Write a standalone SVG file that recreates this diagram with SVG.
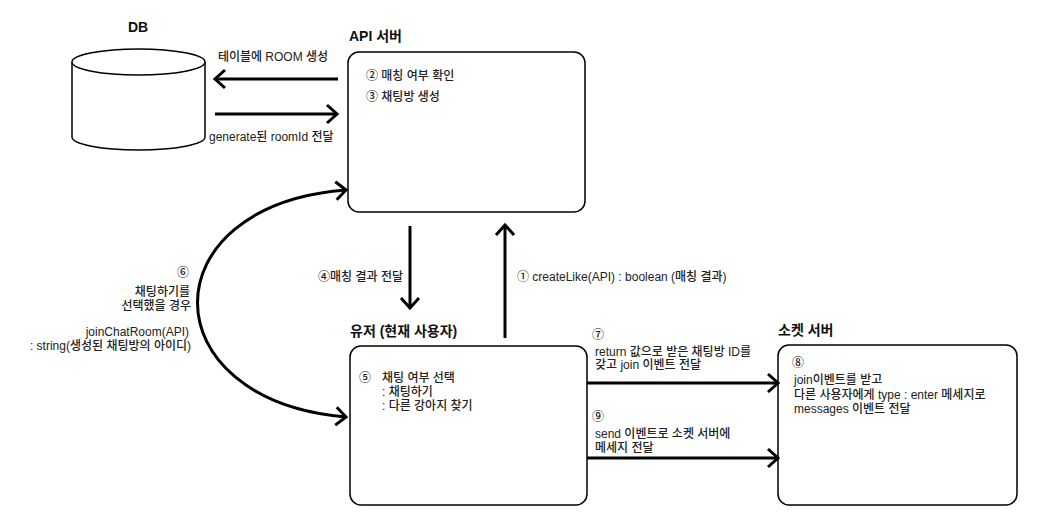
<svg xmlns="http://www.w3.org/2000/svg" width="1043" height="530" viewBox="0 0 1043 530">
<style>
text{font-family:"Liberation Sans","Noto Sans CJK KR",sans-serif;fill:#222;font-size:12px;font-weight:500}
.h{font-size:14px;font-weight:700;fill:#111}
.box{fill:#fff;stroke:#000;stroke-width:1.5}
.ln{fill:none;stroke:#000;stroke-width:3}
.e{text-anchor:end}
</style>
<defs>
<marker id="ah" viewBox="0 0 14 22" refX="12" refY="11" markerWidth="14" markerHeight="22" markerUnits="userSpaceOnUse" orient="auto-start-reverse">
<path d="M2,2 L12,11 L2,20" fill="none" stroke="#000" stroke-width="3"/>
</marker>
</defs>
<rect width="1043" height="530" fill="#fff"/>
<g id="db">
<path class="box" d="M72,62 L72,137 A66.5,13 0 0 0 205,137 L205,62"/>
<ellipse class="box" cx="138.5" cy="62" rx="66.5" ry="13"/>
<text class="h" x="138" y="32" text-anchor="middle">DB</text>
</g>
<g id="api">
<text class="h" x="349" y="41">API 서버</text>
<rect class="box" x="348" y="52" width="237" height="160" rx="11"/>
<text x="366" y="80">② 매칭 여부 확인<tspan x="366" y="101">③ 채팅방 생성</tspan></text>
</g>
<g id="user">
<text class="h" x="350" y="336">유저 (현재 사용자)</text>
<rect class="box" x="350" y="346" width="237" height="159" rx="11"/>
<text x="359" y="382">⑤<tspan x="382" y="382">채팅 여부 선택</tspan><tspan x="382" y="396">: 채팅하기</tspan><tspan x="382" y="410">: 다른 강아지 찾기</tspan></text>
</g>
<g id="socket">
<text class="h" x="778" y="335">소켓 서버</text>
<rect class="box" x="778" y="345" width="239" height="160" rx="11"/>
<text x="792" y="367">⑧<tspan x="794" y="384">join이벤트를 받고</tspan><tspan x="794" y="399">다른 사용자에게 type : enter 메세지로</tspan><tspan x="794" y="413">messages 이벤트 전달</tspan></text>
</g>
<g id="connectors">
<path class="ln" d="M338,79 L215,79" marker-end="url(#ah)"/>
<path class="ln" d="M215,114 L337,114" marker-end="url(#ah)"/>
<path class="ln" d="M410,226 L410,308" marker-end="url(#ah)"/>
<path class="ln" d="M505,338 L505,225" marker-end="url(#ah)"/>
<path class="ln" d="M587,383 L778,383" marker-end="url(#ah)"/>
<path class="ln" d="M587,458 L778,458" marker-end="url(#ah)"/>
<path class="ln" d="M346,417 C148,400 148,205 346,190" marker-start="url(#ah)" marker-end="url(#ah)"/>
<text x="273" y="61" text-anchor="middle">테이블에 ROOM 생성</text>
<text x="209" y="141">generate된 roomId 전달</text>
<text class="e" x="403" y="281">④매칭 결과 전달</text>
<text x="517" y="281">① createLike(API) : boolean (매칭 결과)</text>
<text x="592" y="339">⑦<tspan x="595" y="356">return 값으로 받은 채팅방 ID를</tspan><tspan x="595" y="369">갖고 join 이벤트 전달</tspan></text>
<text x="592" y="421">⑨<tspan x="595" y="438">send 이벤트로 소켓 서버에</tspan><tspan x="595" y="452">메세지 전달</tspan></text>
<text class="e" x="189" y="277">⑥<tspan x="190" y="296">채팅하기를</tspan><tspan x="191" y="310">선택했을 경우</tspan></text>
<text class="e" x="189" y="336">joinChatRoom(API)<tspan x="191" y="350">: string(생성된 채팅방의 아이디)</tspan></text>
</g>
</svg>
